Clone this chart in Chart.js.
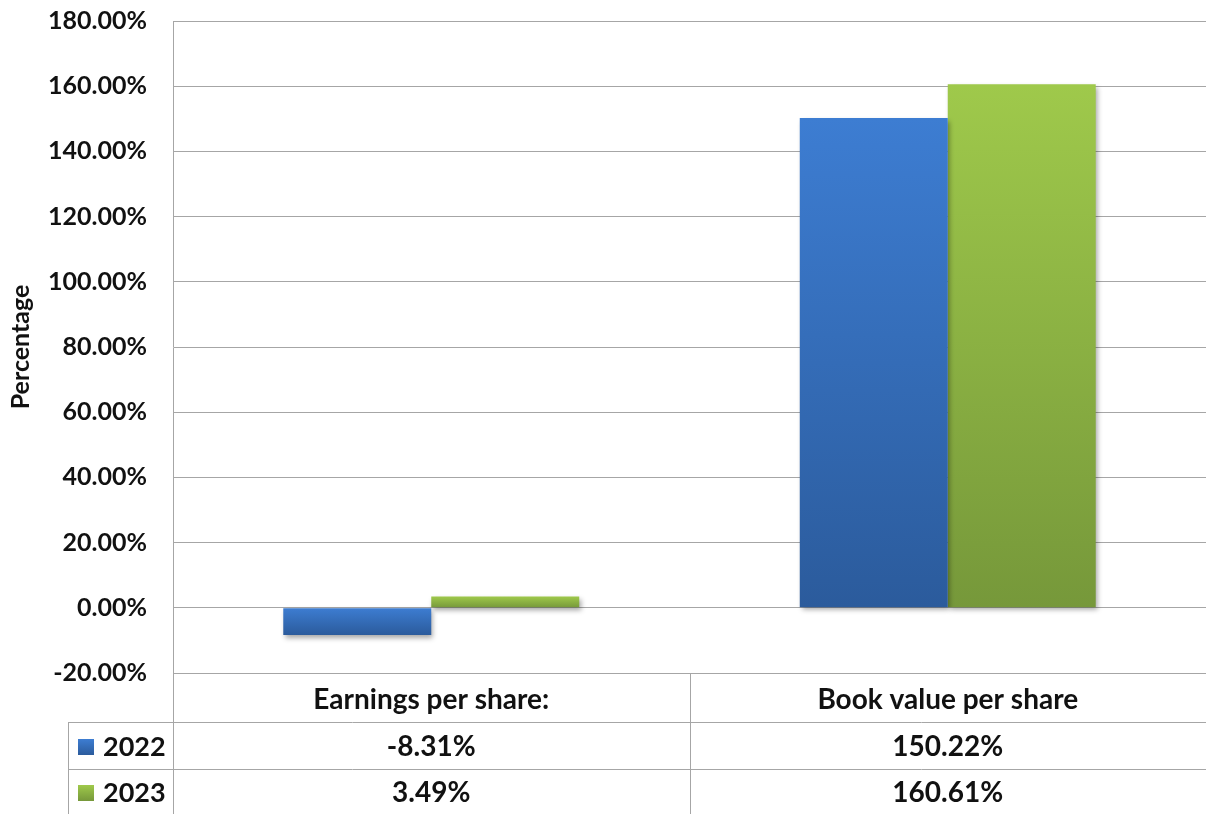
<!DOCTYPE html>
<html>
<head>
<meta charset="utf-8">
<script src="https://cdn.jsdelivr.net/npm/chart.js@4.4.1/dist/chart.umd.min.js"></script>
<style>
  html, body { margin: 0; padding: 0; background: #fff; }
  canvas { display: block; }
</style>
</head>
<body>
<canvas id="perShareChart" width="1206" height="814"></canvas>
<script>
// Data
const categories = ['Earnings per share:', 'Book value per share'];
const years = ['2022', '2023'];
const values2022 = [-8.31, 150.22];
const values2023 = [3.49, 160.61];
const yTicks = [-20, 0, 20, 40, 60, 80, 100, 120, 140, 160, 180];

const FONT = 'Lato, "Open Sans", sans-serif';
const gridColor = '#a6a6a6';

// colour pairs: top -> bottom of each bar
const barColors = [
    ['#3d7dd2', '#2b5b9c'],
    ['#9fc94b', '#76983a']
];

function barGradient(ctx, colors) {
    const chart = ctx.chart;
    if (!chart.chartArea || !chart.scales.y) return colors[0];
    const v = ctx.parsed ? ctx.parsed.y : 0;
    const y = chart.scales.y;
    const top = y.getPixelForValue(Math.max(v, 0));
    const bottom = y.getPixelForValue(Math.min(v, 0));
    if (bottom - top < 1) return colors[0];
    const g = chart.ctx.createLinearGradient(0, top, 0, bottom);
    g.addColorStop(0, colors[0]);
    g.addColorStop(1, colors[1]);
    return g;
}

function fmt(v) {
    return v.toFixed(2) + '%';
}

// soft shadow under the bars
const barShadow = {
    id: 'barShadow',
    beforeDatasetsDraw(chart) {
        const c = chart.ctx;
        c.save();
        c.shadowColor = 'rgba(0,0,0,0.35)';
        c.shadowBlur = 5;
        c.shadowOffsetX = 2;
        c.shadowOffsetY = 3;
    },
    afterDatasetsDraw(chart) {
        chart.ctx.restore();
    }
};

// Excel-style data table under the plot
const dataTable = {
    id: 'dataTable',
    afterDraw(chart) {
        const c = chart.ctx;
        const area = chart.chartArea;
        const x = chart.scales.x;
        const left = area.left, right = chart.width;
        const legendLeft = 68;
        const rows = [area.bottom, 722, 769, chart.height];
        const rowY = [700, 747, 793];
        const seriesValues = [values2022, values2023];

        c.save();
        c.strokeStyle = gridColor;
        c.lineWidth = 1;
        c.beginPath();
        // horizontal lines
        c.moveTo(left, rows[0] + 0.5); c.lineTo(right, rows[0] + 0.5);
        c.moveTo(legendLeft, rows[1] + 0.5); c.lineTo(right, rows[1] + 0.5);
        c.moveTo(legendLeft, rows[2] + 0.5); c.lineTo(right, rows[2] + 0.5);
        // vertical lines
        c.moveTo(legendLeft + 0.5, rows[1]); c.lineTo(legendLeft + 0.5, rows[3]);
        c.moveTo(left + 0.5, rows[0]); c.lineTo(left + 0.5, rows[3]);
        const mid = Math.round((x.getPixelForValue(0) + x.getPixelForValue(1)) / 2) + 0.5;
        c.moveTo(mid, rows[0]); c.lineTo(mid, rows[3]);
        c.stroke();

        c.fillStyle = '#111';
        c.font = 'bold 28px ' + FONT;
        c.textAlign = 'center';
        c.textBaseline = 'middle';
        categories.forEach((cat, i) => {
            const cx = x.getPixelForValue(i);
            c.fillText(cat, cx, rowY[0]);
            seriesValues.forEach((vals, s) => {
                c.fillText(fmt(vals[i]), cx, rowY[s + 1]);
            });
        });

        // legend keys
        c.textAlign = 'left';
        c.font = 'bold 27px ' + FONT;
        years.forEach((yr, s) => {
            const cy = rowY[s + 1];
            const g = c.createLinearGradient(0, cy - 8, 0, cy + 8);
            g.addColorStop(0, barColors[s][0]);
            g.addColorStop(1, barColors[s][1]);
            c.fillStyle = g;
            c.fillRect(78, cy - 8, 16, 16);
            c.fillStyle = '#111';
            c.fillText(yr, 103, cy);
        });
        c.restore();
    }
};

const chart = new Chart(document.getElementById('perShareChart'), {
    type: 'bar',
    data: {
        labels: categories,
        datasets: [{
            label: years[0],
            data: values2022,
            backgroundColor: ctx => barGradient(ctx, barColors[0])
        }, {
            label: years[1],
            data: values2023,
            backgroundColor: ctx => barGradient(ctx, barColors[1])
        }]
    },
    options: {
        responsive: false,
        devicePixelRatio: 1,
        animation: false,
        layout: {
            padding: { top: 21, bottom: 141, left: 0, right: 0 }
        },
        datasets: {
            bar: {
                barPercentage: 1,
                categoryPercentage: 0.573
            }
        },
        plugins: {
            legend: { display: false },
            tooltip: { enabled: false }
        },
        scales: {
            x: {
                display: false
            },
            y: {
                min: yTicks[0],
                max: yTicks[yTicks.length - 1],
                afterBuildTicks: scale => {
                    scale.ticks = yTicks.map(v => ({ value: v }));
                },
                afterFit: scale => {
                    scale.width = 173;
                    scale.paddingTop = 0;
                    scale.paddingBottom = 0;
                },
                ticks: {
                    padding: 26,
                    color: '#111',
                    font: { family: FONT, size: 25, weight: 'bold' },
                    callback: v => fmt(v)
                },
                grid: {
                    color: gridColor,
                    drawTicks: false
                },
                border: {
                    display: true,
                    color: gridColor
                },
                title: {
                    display: true,
                    text: 'Percentage',
                    color: '#111',
                    padding: { top: 6, bottom: 0 },
                    font: { family: FONT, size: 25, weight: 'bold' }
                }
            }
        }
    },
    plugins: [barShadow, dataTable]
});
</script>
</body>
</html>
